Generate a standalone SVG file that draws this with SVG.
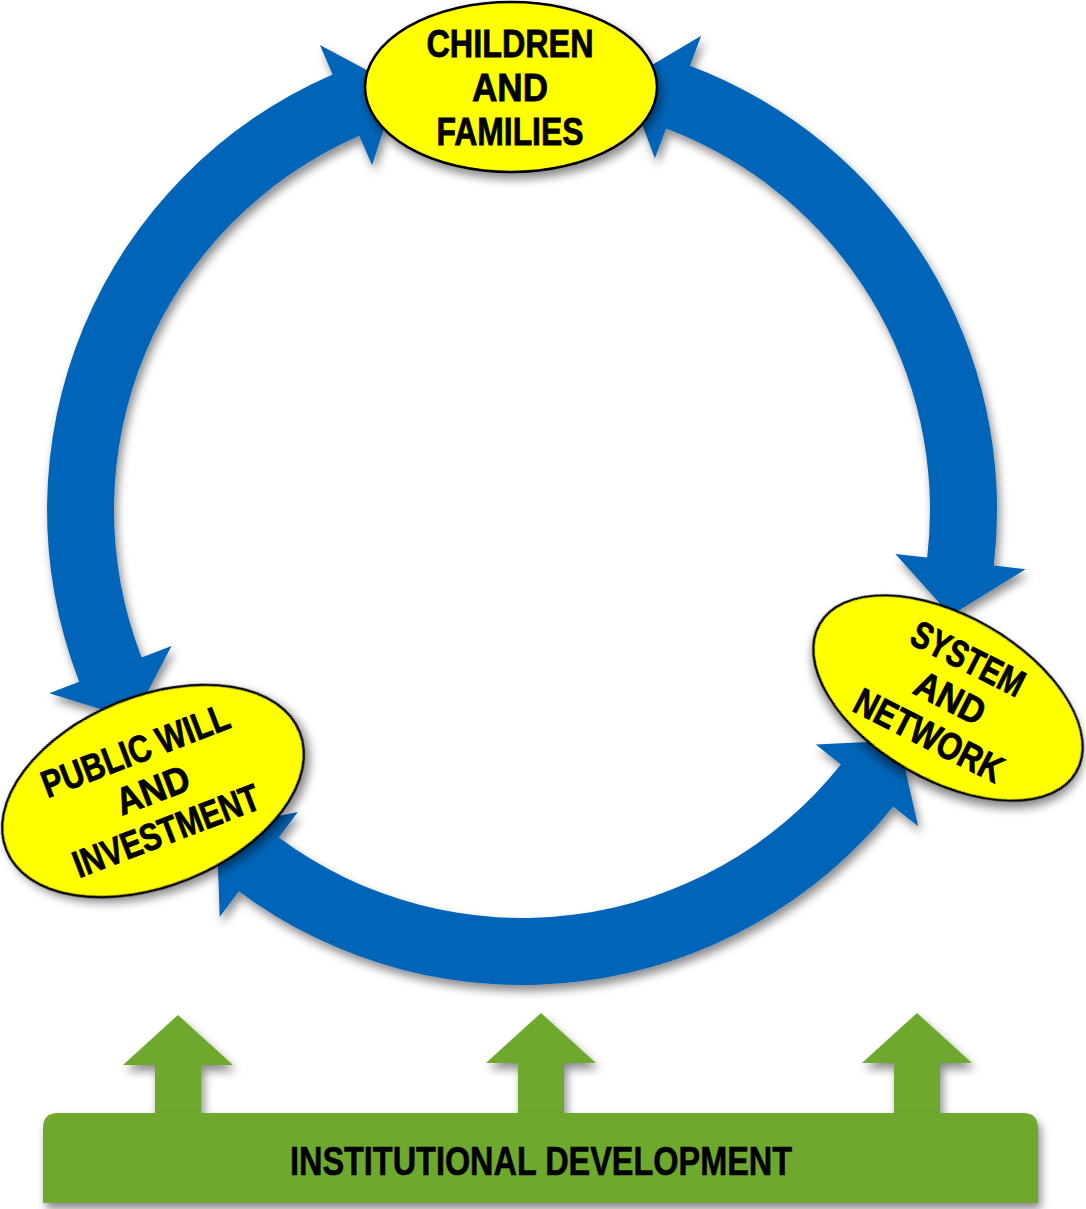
<svg xmlns="http://www.w3.org/2000/svg" width="1086" height="1209" viewBox="0 0 1086 1209">
<defs>
<filter id="sh" x="-20%" y="-20%" width="140%" height="140%">
<feDropShadow dx="3" dy="6" stdDeviation="5" flood-color="#000" flood-opacity="0.45"/>
</filter>
<style>
.arc{fill:#0565B8;filter:url(#sh)}
.node{fill:#FFFF00;stroke:#000;stroke-width:2.5;filter:url(#sh)}
.lbl{font-family:"Liberation Sans",Arial,sans-serif;font-weight:bold;font-size:38px;fill:#000;stroke:#000;stroke-width:0.8;text-anchor:middle}
.green{fill:#6EA92F;filter:url(#sh)}
.glbl{font-family:"Liberation Sans",Arial,sans-serif;font-weight:bold;font-size:41px;fill:#000;stroke:#000;stroke-width:0.6;text-anchor:middle}
</style>
</defs>
<rect width="1086" height="1209" fill="#fff"/>
<g id="connectors">
<path class="arc" d="M332.6,74.4 A475,475 0 0 0 79.2,681.8 L49.3,693.3 L133.3,719.3 L171.5,646 L141.6,657.5 A408,408 0 0 1 359.3,135.8 L372.1,165.2 L397.4,86.5 L319.9,45 Z"/>
<path class="arc" d="M689.9,65.7 A475,475 0 0 1 993.8,565.4 L1025.5,569.2 L950.7,615.6 L895.4,553.9 L927.2,557.6 A408,408 0 0 0 666.2,128.4 L654.9,158.3 L625.5,80.8 L701.2,35.8 Z"/>
<path class="arc" d="M893.2,806.4 A475,475 0 0 1 238.8,891.3 L219.7,917 L216.7,828.9 L297.8,811.9 L278.8,837.5 A408,408 0 0 0 840.9,764.6 L815.8,744.6 L898.6,740.4 L918.2,826.3 Z"/>
</g>
<g id="children">
<ellipse class="node" cx="511" cy="87" rx="146" ry="85"/>
<text class="lbl" x="510" y="57" textLength="167" lengthAdjust="spacingAndGlyphs">CHILDREN</text>
<text class="lbl" x="510" y="101" textLength="76" lengthAdjust="spacingAndGlyphs">AND</text>
<text class="lbl" x="510" y="145" textLength="147" lengthAdjust="spacingAndGlyphs">FAMILIES</text>
</g>
<g id="system">
<ellipse class="node" cx="0" cy="0" rx="148" ry="82" transform="translate(948,698) rotate(30)"/>
<g transform="translate(948,698) rotate(27)">
<text class="lbl" x="0" y="-31" textLength="122" lengthAdjust="spacingAndGlyphs">SYSTEM</text>
<text class="lbl" x="2" y="12" textLength="74" lengthAdjust="spacingAndGlyphs">AND</text>
<text class="lbl" x="0" y="55" textLength="162" lengthAdjust="spacingAndGlyphs">NETWORK</text>
</g>
</g>
<g id="public">
<ellipse class="node" cx="0" cy="0" rx="158" ry="95" transform="translate(153,791) rotate(-22)"/>
<g transform="translate(153,791) rotate(-21)">
<text class="lbl" x="-2" y="-31" textLength="198" lengthAdjust="spacingAndGlyphs">PUBLIC WILL</text>
<text class="lbl" x="0" y="12" textLength="76" lengthAdjust="spacingAndGlyphs">AND</text>
<text class="lbl" x="-2" y="55" textLength="197" lengthAdjust="spacingAndGlyphs">INVESTMENT</text>
</g>
</g>
<g id="institutional">
<path class="green" d="M178,1015 L233,1065 L201,1065 L201,1120 L155,1120 L155,1065 L123,1065 Z"/>
<path class="green" d="M541,1013 L596,1063 L564,1063 L564,1120 L518,1120 L518,1063 L486,1063 Z"/>
<path class="green" d="M917,1013 L972,1063 L940,1063 L940,1120 L894,1120 L894,1063 L862,1063 Z"/>
<path class="green" d="M58,1113 L1023,1113 Q1038,1113 1038,1128 L1038,1203 L43,1203 L43,1128 Q43,1113 58,1113 Z"/>
<text class="glbl" x="541" y="1175" textLength="502" lengthAdjust="spacingAndGlyphs">INSTITUTIONAL DEVELOPMENT</text>
</g>
</svg>
